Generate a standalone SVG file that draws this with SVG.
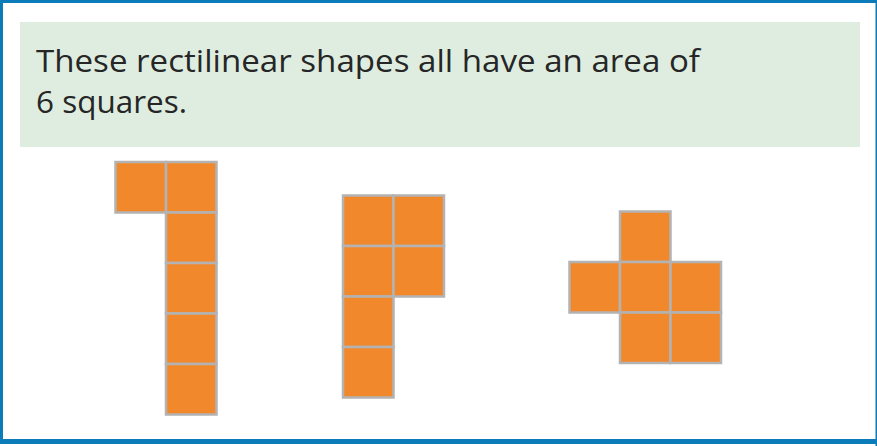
<svg xmlns="http://www.w3.org/2000/svg" width="877" height="446" viewBox="0 0 877 446">
  <style>
    .sq { fill: #F2882C; stroke: #B3B3B3; stroke-width: 2.5; }
    .txt { font-family: "Open Sans", "Noto Sans", sans-serif; font-size: 31px; fill: #262626; }
    .bd { fill: #0B7BBA; }
  </style>
  <defs>
    <rect id="s" class="sq" width="50.5" height="50.5"/>
  </defs>
  <rect x="0" y="0" width="877" height="446" fill="#FFFFFF"/>
  <g id="border">
    <rect class="bd" x="0" y="0" width="877" height="3"/>
    <rect class="bd" x="0" y="0" width="3" height="444"/>
    <rect class="bd" x="875.5" y="0" width="1.5" height="446"/>
    <rect class="bd" x="0" y="439" width="877" height="5"/>
  </g>

  <g id="textbox">
    <rect x="20" y="22" width="840" height="125" fill="#DEEDE0"/>
    <text class="txt" x="36" y="71.5" textLength="664" lengthAdjust="spacingAndGlyphs">These rectilinear shapes all have an area of</text>
    <text class="txt" x="36" y="113" textLength="151" lengthAdjust="spacingAndGlyphs">6 squares.</text>
  </g>

  <g id="shape1">
    <use href="#s" x="115.5" y="162"/>
    <use href="#s" x="166" y="162"/>
    <use href="#s" x="166" y="212.5"/>
    <use href="#s" x="166" y="263"/>
    <use href="#s" x="166" y="313.5"/>
    <use href="#s" x="166" y="364"/>
  </g>

  <g id="shape2">
    <use href="#s" x="343" y="195.5"/>
    <use href="#s" x="393.5" y="195.5"/>
    <use href="#s" x="343" y="246"/>
    <use href="#s" x="393.5" y="246"/>
    <use href="#s" x="343" y="296.5"/>
    <use href="#s" x="343" y="347"/>
  </g>

  <g id="shape3">
    <use href="#s" x="620" y="211.5"/>
    <use href="#s" x="569.5" y="262"/>
    <use href="#s" x="620" y="262"/>
    <use href="#s" x="670.5" y="262"/>
    <use href="#s" x="620" y="312.5"/>
    <use href="#s" x="670.5" y="312.5"/>
  </g>

  <g id="connectors"/>
</svg>
